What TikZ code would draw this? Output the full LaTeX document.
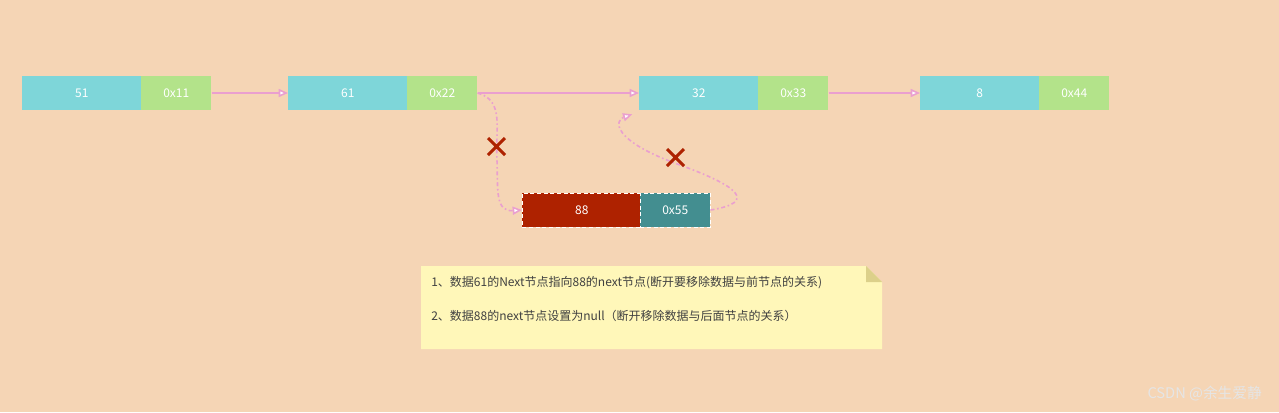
\documentclass[tikz,border=0pt]{standalone}
\usepackage{fontspec}
\setmainfont{Noto Sans CJK SC}
\usetikzlibrary{arrows.meta}
\definecolor{bg}{HTML}{F5D5B5}
\definecolor{cy}{HTML}{7ED6D9}
\definecolor{gr}{HTML}{B3E38A}
\definecolor{rd}{HTML}{AE2200}
\definecolor{tl}{HTML}{438E90}
\definecolor{pk}{HTML}{EA9FCF}
\definecolor{nt}{HTML}{FFF7B9}
\definecolor{fold}{HTML}{DCD08A}
\begin{document}
\begin{tikzpicture}[x=0.75pt,y=-0.75pt,
 cell/.style={minimum height=25.5pt,inner sep=0,text=white,font=\fontsize{9}{10}\selectfont,anchor=west},
 val/.style={cell,fill=cy,minimum width=89.25pt},
 ptr/.style={cell,fill=gr,minimum width=52.5pt},
 link/.style={draw=pk,line width=1.2pt,-{Triangle[open,length=7pt,width=6pt,fill=white]}},
 dlink/.style={link,dash dot},
 cross/.style={draw=rd,line width=2.2pt}]
\fill[bg] (0,0) rectangle (1279,412);
\useasboundingbox (0,0) rectangle (1279,412);
\node[val] (a1) at (22,93) {51}; \node[ptr] (a2) at (141,93) {0x11};
\node[val] (b1) at (288,93) {61}; \node[ptr] (b2) at (407,93) {0x22};
\node[val] (c1) at (639,93) {32}; \node[ptr] (c2) at (758,93) {0x33};
\node[val] (d1) at (920,93) {8}; \node[ptr] (d2) at (1039,93) {0x44};
\node[val,fill=rd,draw=white,densely dashed] (e1) at (522,210) {88};
\node[ptr,fill=tl,draw=white,densely dashed,minimum width=52.5pt] (e2) at (640,210) {0x55};
\draw[link] (a2.east) -- (b1.west);
\draw[link] (b2.east) -- (c1.west);
\draw[link] (c2.east) -- (d1.west);
\draw[dlink] (b2.east) .. controls (505,100) and (495,130) .. (497,160) .. controls (498,190) and (495,212) .. (e1.west);
\draw[dlink] (e2.east) .. controls (760,202) and (735,185) .. (680,165) .. controls (610,140) and (615,120) .. ([xshift=-5pt,yshift=-3pt]c1.south west);
\draw[cross] (488,138) -- (505,155) (488,155) -- (505,138);
\draw[cross] (667,149) -- (684,166) (667,166) -- (684,149);
\fill[nt] (421,266) -- (866,266) -- (882,282) -- (882,349) -- (421,349) -- cycle;
\fill[fold] (866,266) -- (882,282) -- (866,282) -- cycle;
\node[anchor=west,font=\fontsize{9}{10}\selectfont,text=black!75,inner sep=0] (n1) at (431,283) {1、数据61的Next节点指向88的next节点(断开要移除数据与前节点的关系)};
\node[anchor=west,font=\fontsize{9}{10}\selectfont,text=black!75,inner sep=0] (n2) at (431,316) {2、数据88的next节点设置为null（断开移除数据与后面节点的关系）};
\node[anchor=east,font=\fontsize{11}{12}\selectfont,text=white!80!gray,inner sep=0] (w) at (1262,394) {CSDN @余生爱静};
\end{tikzpicture}
\end{document}
